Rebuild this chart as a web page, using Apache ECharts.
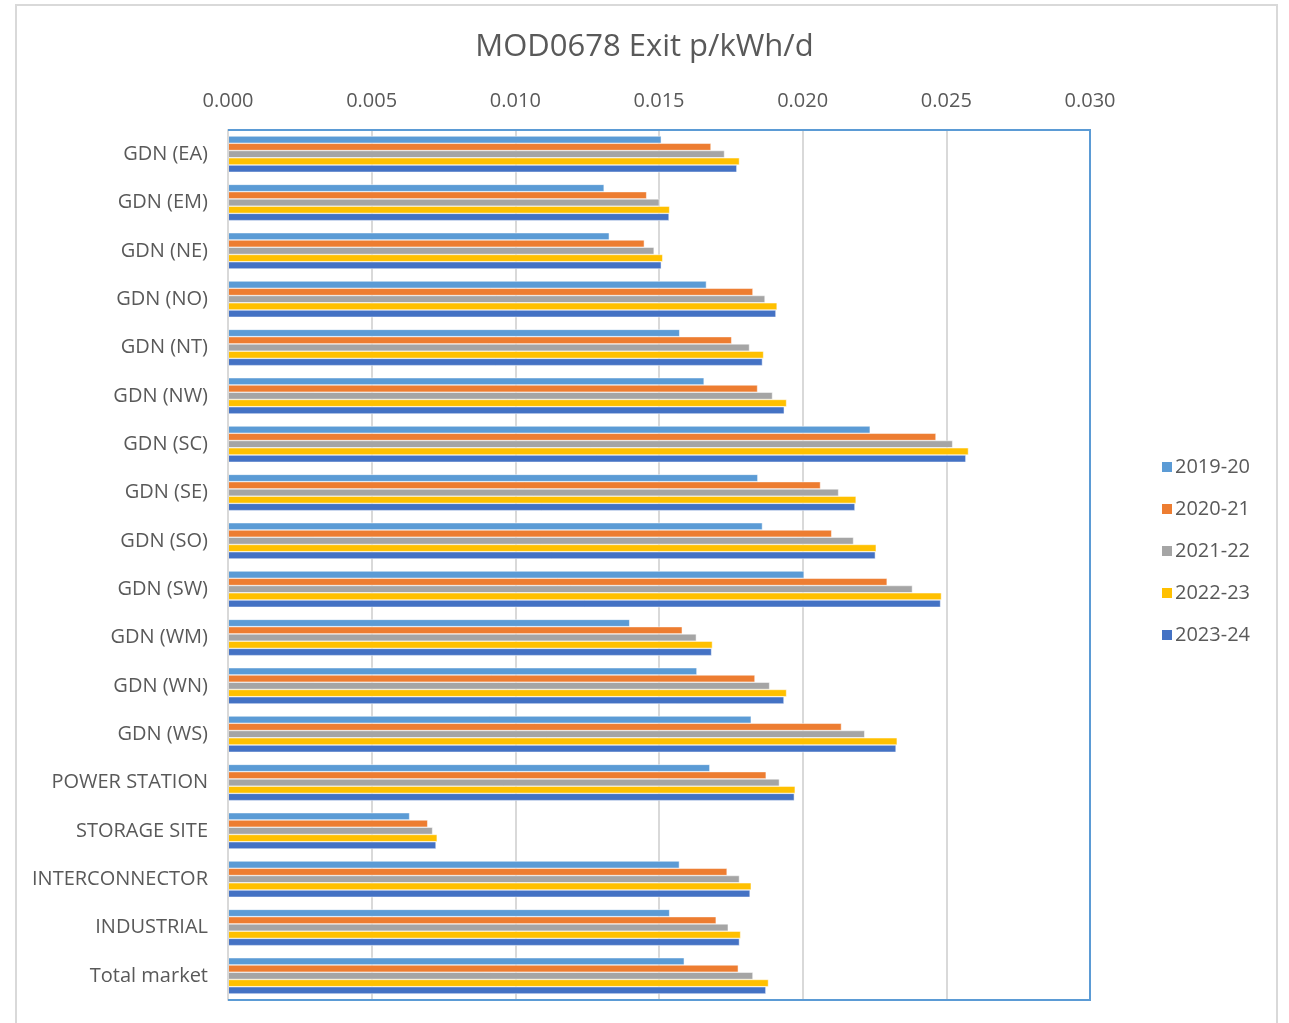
<!DOCTYPE html>
<html>
<head>
<meta charset="utf-8">
<script src="https://cdn.jsdelivr.net/npm/echarts@6/dist/echarts.min.js"></script>
<style>
  * { margin: 0; padding: 0; }
  html, body { background: #fff; }
  #chart-container { width: 1289px; height: 1023px; }
</style>
</head>
<body>
<div id="chart-container"></div>
<script>
  // categories, top to bottom
  var categories = [
    'GDN (EA)', 'GDN (EM)', 'GDN (NE)', 'GDN (NO)', 'GDN (NT)', 'GDN (NW)',
    'GDN (SC)', 'GDN (SE)', 'GDN (SO)', 'GDN (SW)', 'GDN (WM)', 'GDN (WN)',
    'GDN (WS)', 'POWER STATION', 'STORAGE SITE', 'INTERCONNECTOR',
    'INDUSTRIAL', 'Total market'
  ]
  var years = ['2019-20', '2020-21', '2021-22', '2022-23', '2023-24']
  var xTicks = [0, 0.005, 0.01, 0.015, 0.02, 0.025, 0.03]

  var v2019 = [0.01508, 0.01309, 0.01327, 0.01665, 0.01572, 0.01657, 0.02235, 0.01844, 0.01860,
    0.02005, 0.01398, 0.01632, 0.01821, 0.01677, 0.00632, 0.01571, 0.01537, 0.01588]
  var v2020 = [0.01681, 0.01457, 0.01449, 0.01827, 0.01753, 0.01843, 0.02464, 0.02062, 0.02101,
    0.02294, 0.01581, 0.01834, 0.02135, 0.01873, 0.00695, 0.01737, 0.01699, 0.01776]
  var v2021 = [0.01728, 0.01501, 0.01483, 0.01869, 0.01815, 0.01895, 0.02522, 0.02125, 0.02177,
    0.02382, 0.01630, 0.01885, 0.02216, 0.01919, 0.00712, 0.01780, 0.01741, 0.01827]
  var v2022 = [0.01780, 0.01537, 0.01513, 0.01911, 0.01864, 0.01944, 0.02577, 0.02186, 0.02256,
    0.02483, 0.01686, 0.01944, 0.02329, 0.01974, 0.00728, 0.01821, 0.01784, 0.01881]
  var v2023 = [0.01771, 0.01535, 0.01508, 0.01907, 0.01860, 0.01936, 0.02568, 0.02182, 0.02253,
    0.02480, 0.01683, 0.01935, 0.02325, 0.01971, 0.00724, 0.01817, 0.01780, 0.01872]

  var values = [v2019, v2020, v2021, v2022, v2023]
  var colors = ['#5B9BD5', '#ED7D31', '#A5A5A5', '#FFC000', '#4472C4']
  var font = 'Open Sans'
  var textColor = '#595959'

  var chart = echarts.init(document.getElementById('chart-container'), null, { renderer: 'canvas' })

  // plot area, in px
  var gl = 228, gt = 130, gw = 862, gh = 870

  var option = {
    animation: false,
    color: colors,
    textStyle: { fontFamily: font },
    title: {
      text: 'MOD0678 Exit p/kWh/d',
      left: 'center',
      top: 27,
      textStyle: { fontFamily: font, fontSize: 31, fontWeight: 'normal', color: textColor }
    },
    legend: {
      orient: 'vertical',
      left: 1155,
      top: 452,
      itemWidth: 12,
      itemHeight: 12,
      itemGap: 22,
      icon: 'rect',
      data: years,
      textStyle: { fontFamily: font, fontSize: 20, color: textColor, padding: [0, 0, 0, -3] }
    },
    grid: {
      left: gl,
      top: gt,
      width: gw,
      height: gh,
      containLabel: false
    },
    xAxis: {
      type: 'value',
      position: 'top',
      min: xTicks[0],
      max: xTicks[xTicks.length - 1],
      interval: 0.005,
      axisLine: { show: false },
      axisTick: { show: false },
      axisLabel: {
        margin: 19,
        fontFamily: font,
        fontSize: 20,
        color: textColor,
        formatter: function (v) { return v.toFixed(3) }
      },
      splitLine: { lineStyle: { color: '#D9D9D9', width: 2 } }
    },
    yAxis: {
      type: 'category',
      inverse: true,
      data: categories,
      z: 5,
      axisLine: { show: true, lineStyle: { color: '#D9D9D9', width: 2 } },
      axisTick: { show: false },
      axisLabel: { margin: 20, fontFamily: font, fontSize: 20, color: textColor }
    },
    graphic: [{
      type: 'polyline',
      shape: { points: [[16, 1023], [16, 5], [1277, 5], [1277, 1023]] },
      style: { stroke: '#D9D9D9', lineWidth: 2, fill: null },
      silent: true
    }, {
      type: 'polyline',
      z: 10,
      shape: { points: [[gl, gt], [gl + gw, gt], [gl + gw, gt + gh], [gl, gt + gh]] },
      style: { stroke: '#5B9BD5', lineWidth: 2, fill: null },
      silent: true
    }],
    series: years.map(function (y, i) {
      return {
        name: y,
        type: 'bar',
        data: values[i],
        barGap: '0%',
        barCategoryGap: '25%',
        itemStyle: { borderColor: '#fff', borderWidth: 0.5 }
      }
    })
  }

  chart.setOption(option)
  window.addEventListener('resize', chart.resize)
</script>
</body>
</html>
